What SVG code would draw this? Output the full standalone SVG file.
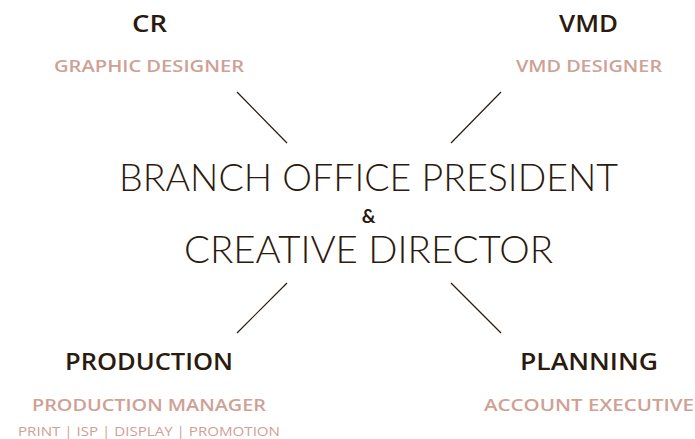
<svg xmlns="http://www.w3.org/2000/svg" width="695" height="439" viewBox="0 0 695 439">
<style>
.h{font-family:"Open Sans","Liberation Sans",sans-serif;font-weight:600;fill:#2b1a0e;text-anchor:middle}
.s{font-family:"Open Sans","Liberation Sans",sans-serif;font-weight:600;fill:#cfa194;text-anchor:middle}
.m{font-family:Lato,"Open Sans",sans-serif;font-weight:300;fill:#2b1a0e;text-anchor:middle}
.a{font-family:Lato,"Open Sans",sans-serif;font-weight:700;fill:#2b1a0e;text-anchor:middle}
.t{font-family:"Open Sans","Liberation Sans",sans-serif;font-weight:400;fill:#cfa194;text-anchor:middle}
.c{stroke:#2b1a0e;stroke-width:1.2;fill:none}
</style>
<rect width="695" height="439" fill="#ffffff"/>
<g id="center">
<text class="m" x="368.5" y="191" font-size="38" textLength="499" lengthAdjust="spacingAndGlyphs">BRANCH OFFICE PRESIDENT</text>
<text class="a" x="368.5" y="222.5" font-size="19">&amp;</text>
<text class="m" x="368.5" y="263" font-size="38" textLength="369" lengthAdjust="spacingAndGlyphs">CREATIVE DIRECTOR</text>
</g>
<g id="cr">
<text class="h" x="149.5" y="32" font-size="24" textLength="35" lengthAdjust="spacingAndGlyphs">CR</text>
<text class="s" x="149" y="72" font-size="17" textLength="190" lengthAdjust="spacingAndGlyphs">GRAPHIC DESIGNER</text>
</g>
<g id="vmd">
<text class="h" x="588.5" y="32" font-size="24" textLength="59" lengthAdjust="spacingAndGlyphs">VMD</text>
<text class="s" x="589" y="72" font-size="17" textLength="146" lengthAdjust="spacingAndGlyphs">VMD DESIGNER</text>
</g>
<g id="production">
<text class="h" x="149" y="370" font-size="24" textLength="168" lengthAdjust="spacingAndGlyphs">PRODUCTION</text>
<text class="s" x="149" y="411" font-size="17" textLength="234" lengthAdjust="spacingAndGlyphs">PRODUCTION MANAGER</text>
<text class="t" x="149" y="436" font-size="13" textLength="262" lengthAdjust="spacingAndGlyphs">PRINT | ISP | DISPLAY | PROMOTION</text>
</g>
<g id="planning">
<text class="h" x="589" y="370" font-size="24" textLength="138" lengthAdjust="spacingAndGlyphs">PLANNING</text>
<text class="s" x="589" y="411" font-size="17" textLength="210" lengthAdjust="spacingAndGlyphs">ACCOUNT EXECUTIVE</text>
</g>
<g id="connectors">
<line class="c" x1="237" y1="92" x2="287" y2="143"/>
<line class="c" x1="501" y1="92" x2="451" y2="143"/>
<line class="c" x1="287" y1="283" x2="237" y2="333"/>
<line class="c" x1="451" y1="283" x2="501" y2="333"/>
</g>
</svg>
